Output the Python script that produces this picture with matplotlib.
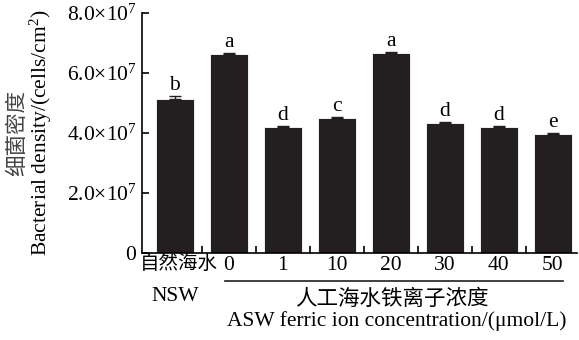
"""Bacterial density on coupons under natural seawater and ASW with ferric ions."""

import matplotlib

matplotlib.use("Agg")
import matplotlib.pyplot as plt
import matplotlib.transforms as mtransforms
import numpy as np

plt.rcParams["font.family"] = ["Liberation Serif", "Noto Sans CJK SC"]
plt.rcParams["mathtext.fontset"] = "custom"
plt.rcParams["mathtext.rm"] = "Liberation Serif"
plt.rcParams["mathtext.it"] = "Liberation Serif:italic"

# data (cells/cm2)
groups = ["自然海水", "0", "1", "10", "20", "30", "40", "50"]
density = [5.12e7, 6.63e7, 4.19e7, 4.49e7, 6.66e7, 4.33e7, 4.19e7, 3.96e7]
errors = [0.10e7, 0.03e7, 0.03e7, 0.03e7, 0.03e7, 0.03e7, 0.03e7, 0.03e7]
letters = ["b", "a", "d", "c", "a", "d", "d", "e"]
y_ticks = [0, 2e7, 4e7, 6e7, 8e7]
y_tick_labels = ["0", r"2.0$\times$10$^{7}$", r"4.0$\times$10$^{7}$",
                 r"6.0$\times$10$^{7}$", r"8.0$\times$10$^{7}$"]

bar_color = "#231f20"
fs = 15.5

fig = plt.figure(figsize=(5.79, 3.40), dpi=100)
ax = fig.add_axes([142 / 579, 1 - 253 / 340, 435 / 579, 240 / 340])

x = np.arange(len(groups))
ax.bar(x, density, width=0.7, color=bar_color, edgecolor="white", linewidth=0.6)
ax.errorbar(x, density, yerr=[np.zeros(len(errors)), errors], fmt="none",
            ecolor=bar_color, elinewidth=1.0, capsize=4, capthick=1.0)

for xi, v, e, lab in zip(x, density, errors, letters):
    ax.annotate(lab, (xi, v + e), xytext=(0, 1), textcoords="offset points",
                ha="center", va="bottom", fontsize=fs)

ax.set_xlim(-0.61, 7.45)
ax.set_ylim(0, 8e7)
ax.set_yticks(y_ticks)
ax.set_yticklabels(y_tick_labels, fontsize=fs)

ax.set_xticks(x)
ax.set_xticklabels([""] + groups[1:], fontsize=fs)
ax.set_xticks(x[:-1] + 0.5, minor=True)
ax.tick_params(axis="x", which="major", length=0, pad=2)
ax.tick_params(axis="x", which="minor", direction="in", length=5, width=1.2)
ax.tick_params(axis="y", direction="in", length=5, width=1.2, pad=4)

for side in ["top", "right"]:
    ax.spines[side].set_visible(False)
for side in ["left", "bottom"]:
    ax.spines[side].set_linewidth(1.2)

trans = mtransforms.blended_transform_factory(ax.transData, ax.transAxes)
# natural seawater label set by hand so it clears the "0" y tick label
ax.text(0.07, -0.045, groups[0], transform=trans, ha="center", va="center",
        fontsize=14)
ax.text(0, -0.18, "NSW", transform=trans, ha="center", va="center", fontsize=fs)
ax.plot([0.93, 7.19], [-0.117, -0.117], transform=trans, color=bar_color,
        lw=1.2, clip_on=False)
ax.text(4.02, -0.196, "人工海水铁离子浓度", transform=trans, ha="center",
        va="center", fontsize=fs)
ax.text(4.11, -0.285, "ASW ferric ion concentration/(μmol/L)", transform=trans,
        ha="center", va="center", fontsize=fs)

ax.text(-0.285, 0.5, "细菌密度", transform=ax.transAxes, rotation=90,
        ha="center", va="center", fontsize=fs, color="#444444")
ax.text(-0.232, 0.5, r"Bacterial density/(cells/cm$^{2}$)", transform=ax.transAxes,
        rotation=90, ha="center", va="center", fontsize=fs)

fig.savefig("out.png", dpi=100)
